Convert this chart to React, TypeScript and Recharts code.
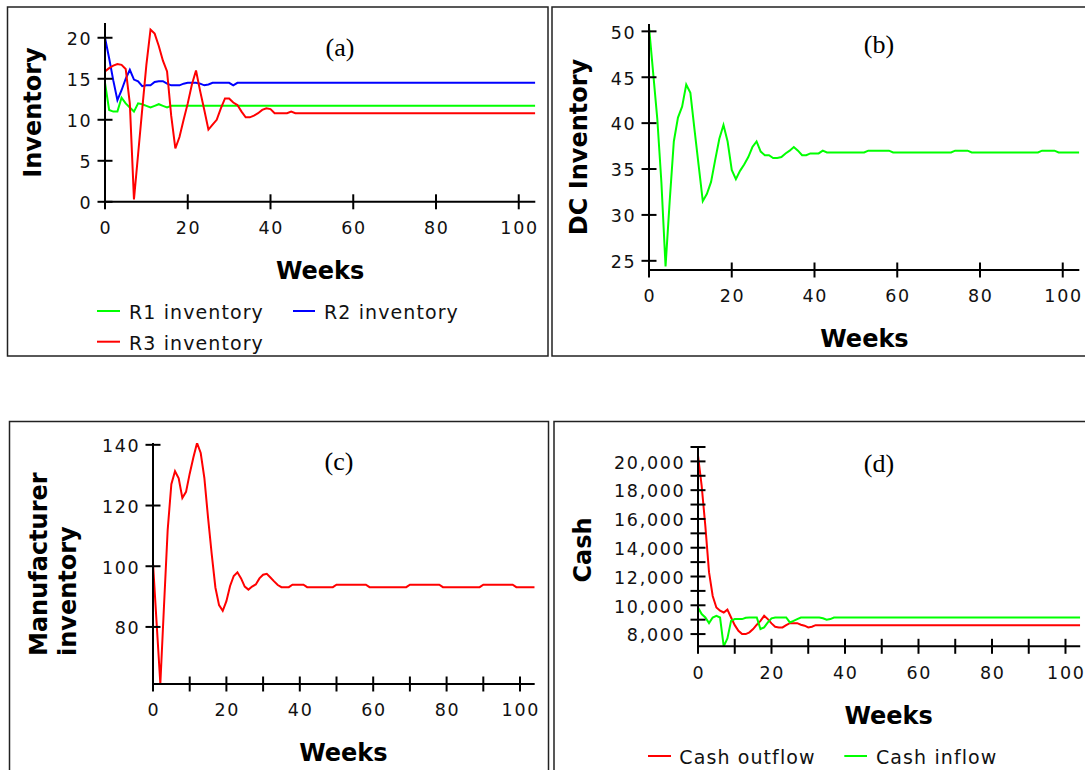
import React from 'react';
import { LineChart, Line, XAxis, YAxis } from 'recharts';

// ---------- data (weekly values, week index = position) ----------
const r1Inventory = [
  14.5, 11.2, 11.0, 11.0, 12.7, 12.0, 11.5, 11.0, 12.0, 11.9,
  11.7, 11.5, 11.7, 11.9, 11.7, 11.5, 11.7, 11.7, 11.7, 11.7,
  11.7, 11.7, 11.7, 11.7, 11.7, 11.7, 11.7, 11.7, 11.7, 11.7,
  11.7, 11.7, 11.7, 11.7, 11.7, 11.7, 11.7, 11.7, 11.7, 11.7,
  11.7, 11.7, 11.7, 11.7, 11.7, 11.7, 11.7, 11.7, 11.7, 11.7,
  11.7, 11.7, 11.7, 11.7, 11.7, 11.7, 11.7, 11.7, 11.7, 11.7,
  11.7, 11.7, 11.7, 11.7, 11.7, 11.7, 11.7, 11.7, 11.7, 11.7,
  11.7, 11.7, 11.7, 11.7, 11.7, 11.7, 11.7, 11.7, 11.7, 11.7,
  11.7, 11.7, 11.7, 11.7, 11.7, 11.7, 11.7, 11.7, 11.7, 11.7,
  11.7, 11.7, 11.7, 11.7, 11.7, 11.7, 11.7, 11.7, 11.7, 11.7,
  11.7, 11.7, 11.7, 11.7, 11.7,
];

const r2Inventory = [
  20.0, 17.5, 14.8, 12.4, 13.6, 15.0, 16.1, 14.9, 14.7, 14.1,
  14.2, 14.2, 14.6, 14.7, 14.7, 14.4, 14.2, 14.2, 14.2, 14.4,
  14.5, 14.5, 14.5, 14.4, 14.2, 14.3, 14.5, 14.5, 14.5, 14.5,
  14.5, 14.2, 14.5, 14.5, 14.5, 14.5, 14.5, 14.5, 14.5, 14.5,
  14.5, 14.5, 14.5, 14.5, 14.5, 14.5, 14.5, 14.5, 14.5, 14.5,
  14.5, 14.5, 14.5, 14.5, 14.5, 14.5, 14.5, 14.5, 14.5, 14.5,
  14.5, 14.5, 14.5, 14.5, 14.5, 14.5, 14.5, 14.5, 14.5, 14.5,
  14.5, 14.5, 14.5, 14.5, 14.5, 14.5, 14.5, 14.5, 14.5, 14.5,
  14.5, 14.5, 14.5, 14.5, 14.5, 14.5, 14.5, 14.5, 14.5, 14.5,
  14.5, 14.5, 14.5, 14.5, 14.5, 14.5, 14.5, 14.5, 14.5, 14.5,
  14.5, 14.5, 14.5, 14.5, 14.5,
];

const r3Inventory = [
  15.9, 16.3, 16.6, 16.8, 16.7, 16.2, 12.0, 0.3, 5.8, 11.3,
  16.7, 21.0, 20.5, 19.0, 17.2, 15.9, 10.5, 6.5, 7.9, 10.0,
  12.0, 14.3, 16.0, 13.5, 11.2, 8.8, 9.4, 10.0, 11.4, 12.6,
  12.6, 12.1, 11.8, 11.0, 10.3, 10.3, 10.5, 10.8, 11.2, 11.4,
  11.3, 10.8, 10.8, 10.8, 10.8, 11.0, 10.8, 10.8, 10.8, 10.8,
  10.8, 10.8, 10.8, 10.8, 10.8, 10.8, 10.8, 10.8, 10.8, 10.8,
  10.8, 10.8, 10.8, 10.8, 10.8, 10.8, 10.8, 10.8, 10.8, 10.8,
  10.8, 10.8, 10.8, 10.8, 10.8, 10.8, 10.8, 10.8, 10.8, 10.8,
  10.8, 10.8, 10.8, 10.8, 10.8, 10.8, 10.8, 10.8, 10.8, 10.8,
  10.8, 10.8, 10.8, 10.8, 10.8, 10.8, 10.8, 10.8, 10.8, 10.8,
  10.8, 10.8, 10.8, 10.8, 10.8,
];

const dcInventory = [
  50.5, 45.5, 40.5, 33.5, 24.4, 31.5, 38.0, 40.6, 41.8, 44.2,
  43.3, 39.3, 35.4, 31.5, 32.3, 33.6, 36.0, 38.3, 39.8, 38.0,
  34.9, 33.9, 34.8, 35.5, 36.3, 37.4, 38.0, 36.9, 36.5, 36.5,
  36.2, 36.2, 36.3, 36.7, 37.0, 37.4, 37.0, 36.5, 36.5, 36.7,
  36.7, 36.7, 37.0, 36.8, 36.8, 36.8, 36.8, 36.8, 36.8, 36.8,
  36.8, 36.8, 36.8, 37.0, 37.0, 37.0, 37.0, 37.0, 37.0, 36.8,
  36.8, 36.8, 36.8, 36.8, 36.8, 36.8, 36.8, 36.8, 36.8, 36.8,
  36.8, 36.8, 36.8, 36.8, 37.0, 37.0, 37.0, 37.0, 36.8, 36.8,
  36.8, 36.8, 36.8, 36.8, 36.8, 36.8, 36.8, 36.8, 36.8, 36.8,
  36.8, 36.8, 36.8, 36.8, 36.8, 37.0, 37.0, 37.0, 37.0, 36.8,
  36.8, 36.8, 36.8, 36.8, 36.8,
];

const manufacturerInventory = [
  101.0, 81.0, 61.3, 87.0, 112.0, 127.0, 131.3, 129.0, 122.5, 124.5,
  130.5, 135.8, 140.6, 137.3, 129.0, 116.0, 104.0, 93.0, 87.2, 85.3,
  88.5, 93.5, 96.8, 98.0, 96.0, 93.3, 92.3, 93.3, 94.0, 96.0,
  97.2, 97.5, 96.3, 95.0, 93.8, 93.1, 93.1, 93.1, 93.9, 93.9,
  93.9, 93.9, 93.1, 93.1, 93.1, 93.1, 93.1, 93.1, 93.1, 93.1,
  93.9, 93.9, 93.9, 93.9, 93.9, 93.9, 93.9, 93.9, 93.9, 93.1,
  93.1, 93.1, 93.1, 93.1, 93.1, 93.1, 93.1, 93.1, 93.1, 93.1,
  93.9, 93.9, 93.9, 93.9, 93.9, 93.9, 93.9, 93.9, 93.9, 93.1,
  93.1, 93.1, 93.1, 93.1, 93.1, 93.1, 93.1, 93.1, 93.1, 93.1,
  93.9, 93.9, 93.9, 93.9, 93.9, 93.9, 93.9, 93.9, 93.9, 93.1,
  93.1, 93.1, 93.1, 93.1, 93.1,
];

const cashOutflow = [
  20400, 18300, 15500, 12300, 10650, 9850, 9620, 9500, 9700, 9150,
  8620, 8230, 8000, 8000, 8120, 8350, 8650, 8920, 9270, 9040,
  8740, 8510, 8460, 8460, 8620, 8760, 8760, 8760, 8650, 8580,
  8460, 8510, 8620, 8620, 8620, 8620, 8620, 8620, 8620, 8620,
  8620, 8620, 8620, 8620, 8620, 8620, 8620, 8620, 8620, 8620,
  8620, 8620, 8620, 8620, 8620, 8620, 8620, 8620, 8620, 8620,
  8620, 8620, 8620, 8620, 8620, 8620, 8620, 8620, 8620, 8620,
  8620, 8620, 8620, 8620, 8620, 8620, 8620, 8620, 8620, 8620,
  8620, 8620, 8620, 8620, 8620, 8620, 8620, 8620, 8620, 8620,
  8620, 8620, 8620, 8620, 8620, 8620, 8620, 8620, 8620, 8620,
  8620, 8620, 8620, 8620, 8620,
];

const cashInflow = [
  9850, 9390, 9150, 8760, 9150, 9270, 9150, 7150, 7700, 8920,
  9040, 9040, 9040, 9130, 9150, 9150, 9150, 8350, 8460, 8810,
  9090, 9150, 9150, 9150, 9150, 8810, 8920, 9040, 9150, 9150,
  9150, 9150, 9150, 9150, 9100, 9000, 9040, 9150, 9150, 9150,
  9150, 9150, 9150, 9150, 9150, 9150, 9150, 9150, 9150, 9150,
  9150, 9150, 9150, 9150, 9150, 9150, 9150, 9150, 9150, 9150,
  9150, 9150, 9150, 9150, 9150, 9150, 9150, 9150, 9150, 9150,
  9150, 9150, 9150, 9150, 9150, 9150, 9150, 9150, 9150, 9150,
  9150, 9150, 9150, 9150, 9150, 9150, 9150, 9150, 9150, 9150,
  9150, 9150, 9150, 9150, 9150, 9150, 9150, 9150, 9150, 9150,
  9150, 9150, 9150, 9150, 9150,
];

const weekTicksCoarse = [0, 20, 40, 60, 80, 100];
const weekTicksFine = [0, 10, 20, 30, 40, 50, 60, 70, 80, 90, 100];
const retailerTicks = [0, 5, 10, 15, 20];
const dcTicks = [25, 30, 35, 40, 45, 50];
const manufacturerTicks = [80, 100, 120, 140];
const cashTicks = [8000, 9000, 10000, 11000, 12000, 13000, 14000, 15000, 16000, 17000, 18000, 19000, 20000, 21000];

const legendA = ['R1 inventory', 'R2 inventory', 'R3 inventory'];
const legendD = ['Cash outflow', 'Cash inflow'];

// ---------- derived tables ----------
const retailerData = r1Inventory.map((v, i) => ({ week: i, r1: v, r2: r2Inventory[i], r3: r3Inventory[i] }));
const dcData = dcInventory.map((v, i) => ({ week: i, dc: v }));
const manufacturerData = manufacturerInventory.map((v, i) => ({ week: i, m: v }));
const cashData = cashOutflow.map((v, i) => ({ week: i, out: v, inflow: cashInflow[i] }));

const GREEN = '#00ff00';
const RED = '#ff0000';
const BLUE = '#0000ff';
const SANS = "'DejaVu Sans', Verdana, sans-serif";
const SERIF = "'Liberation Serif', 'Times New Roman', serif";

type Rect = { left: number; top: number; right: number; bottom: number };

const makeXTick = (labelEvery: number) => (props: any) => {
  const { x, y, payload } = props;
  const v = payload.value as number;
  return (
    <g>
      <line x1={x} y1={y - 7.5} x2={x} y2={y + 7.5} stroke="#000" strokeWidth={2} />
      {v % labelEvery === 0 ? (
        <text x={x + 0.85} y={y + 32.5} textAnchor="middle" fontSize={17.5} fontFamily={SANS} fill="#111" style={{ letterSpacing: 1.7 }}>
          {String(v)}
        </text>
      ) : null}
    </g>
  );
};

const makeYTick = (label: (v: number) => string | null) => (props: any) => {
  const { x, y, payload } = props;
  const v = payload.value as number;
  const t = label(v);
  return (
    <g>
      <line x1={x - 7.5} y1={y} x2={x + 7.5} y2={y} stroke="#000" strokeWidth={2} />
      {t !== null ? (
        <text x={x - 12.6} y={y + 7.3} textAnchor="end" fontSize={17.5} fontFamily={SANS} fill="#111" style={{ letterSpacing: 1.7 }}>
          {t}
        </text>
      ) : null}
    </g>
  );
};

type Series = { key: string; color: string };

function Panel(props: {
  rect: Rect;
  data: any[];
  yDomain: [number, number];
  yTicks: number[];
  xTicks: number[];
  xLabelEvery: number;
  yLabel: (v: number) => string | null;
  series: Series[];
}) {
  const { rect } = props;
  const w = rect.right - rect.left + 110;
  const h = rect.bottom - rect.top + 50;
  return (
    <div style={{ position: 'absolute', left: rect.left - 100, top: rect.top - 10, width: w, height: h }}>
      <LineChart width={w} height={h} data={props.data} margin={{ top: 10, right: 10, bottom: 0, left: 0 }}>
        <XAxis
          dataKey="week"
          type="number"
          domain={[0, 104]}
          ticks={props.xTicks}
          interval={0}
          height={40}
          tickSize={0}
          tickMargin={0}
          tickLine={false}
          axisLine={{ stroke: '#000', strokeWidth: 2 }}
          tick={makeXTick(props.xLabelEvery)}
          allowDataOverflow
        />
        <YAxis
          type="number"
          domain={props.yDomain}
          ticks={props.yTicks}
          interval={0}
          width={100}
          tickSize={0}
          tickMargin={0}
          tickLine={false}
          axisLine={{ stroke: '#000', strokeWidth: 2 }}
          tick={makeYTick(props.yLabel)}
          allowDataOverflow
        />
        {props.series.map((s) => (
          <Line
            key={s.key}
            type="linear"
            dataKey={s.key}
            stroke={s.color}
            strokeWidth={2}
            dot={false}
            activeDot={false}
            isAnimationActive={false}
          />
        ))}
      </LineChart>
    </div>
  );
}

const rectA: Rect = { left: 105, top: 22.9, right: 535.3, bottom: 201.7 };
const rectB: Rect = { left: 649.3, top: 24, right: 1079.6, bottom: 270 };
const rectC: Rect = { left: 152.5, top: 443, right: 534.2, bottom: 684 };
const rectD: Rect = { left: 697.5, top: 447.4, right: 1079.7, bottom: 646.7 };

const midX = (r: Rect) => (r.left + r.right) / 2;

const plainLabel = (v: number) => String(v);
const cashLabel = (v: number) => (v % 2000 === 0 && v <= 20000 ? v.toLocaleString('en-US') : null);

export default function App() {
  const bold = { fontFamily: SANS, fontWeight: 700, fontSize: 24, fill: '#000' } as const;
  const legendText = { fontFamily: SANS, fontSize: 19, fill: '#111', style: { letterSpacing: 1.1 } } as const;
  const tag = { fontFamily: SERIF, fontSize: 26, fill: '#000', textAnchor: 'middle' as const };
  return (
    <div style={{ position: 'absolute', left: 0, top: 0, width: 1085, height: 770, overflow: 'hidden', background: '#fff' }}>
      <svg width={1085} height={770} style={{ position: 'absolute', left: 0, top: 0 }}>
        {/* panel frames */}
        <rect x={7.5} y={7} width={540.5} height={349} fill="none" stroke="#222" strokeWidth={1.5} />
        <rect x={552} y={7} width={600} height={349} fill="none" stroke="#222" strokeWidth={1.5} />
        <rect x={9.5} y={421.5} width={539} height={400} fill="none" stroke="#222" strokeWidth={1.5} />
        <rect x={554} y={421.5} width={600} height={400} fill="none" stroke="#222" strokeWidth={1.5} />

        {/* panel tags */}
        <text x={340} y={56} {...tag}>(a)</text>
        <text x={879} y={53} {...tag}>(b)</text>
        <text x={339} y={470} {...tag}>(c)</text>
        <text x={879} y={472} {...tag}>(d)</text>

        {/* axis titles */}
        <text x={midX(rectA)} y={rectA.bottom + 77} textAnchor="middle" {...bold}>Weeks</text>
        <text x={midX(rectB)} y={rectB.bottom + 77} textAnchor="middle" {...bold}>Weeks</text>
        <text x={midX(rectC)} y={rectC.bottom + 77} textAnchor="middle" {...bold}>Weeks</text>
        <text x={midX(rectD)} y={rectD.bottom + 77} textAnchor="middle" {...bold}>Weeks</text>

        <text transform="translate(41,112.5) rotate(-90)" textAnchor="middle" {...bold}>Inventory</text>
        <text transform="translate(587,147) rotate(-90)" textAnchor="middle" {...bold}>DC Inventory</text>
        <text transform="translate(46.5,656) rotate(-90)" textAnchor="start" {...bold}>Manufacturer</text>
        <text transform="translate(75.5,656) rotate(-90)" textAnchor="start" {...bold}>inventory</text>
        <text transform="translate(591,550) rotate(-90)" textAnchor="middle" {...bold}>Cash</text>

        {/* legend (a) */}
        <line x1={97} y1={311} x2={120} y2={311} stroke={GREEN} strokeWidth={2} />
        <text x={129} y={319.3} {...legendText}>{legendA[0]}</text>
        <line x1={293} y1={311} x2={315} y2={311} stroke={BLUE} strokeWidth={2} />
        <text x={324} y={319.3} {...legendText}>{legendA[1]}</text>
        <line x1={97} y1={341.7} x2={120} y2={341.7} stroke={RED} strokeWidth={2} />
        <text x={129} y={350} {...legendText}>{legendA[2]}</text>

        {/* legend (d) */}
        <line x1={648} y1={756} x2={671} y2={756} stroke={RED} strokeWidth={2} />
        <text x={679.3} y={764} {...legendText}>{legendD[0]}</text>
        <line x1={844.3} y1={756} x2={867} y2={756} stroke={GREEN} strokeWidth={2} />
        <text x={876} y={764} {...legendText}>{legendD[1]}</text>
      </svg>

      <Panel
        rect={rectA}
        data={retailerData}
        yDomain={[0, 21.8]}
        yTicks={retailerTicks}
        xTicks={weekTicksCoarse}
        xLabelEvery={20}
        yLabel={plainLabel}
        series={[
          { key: 'r1', color: GREEN },
          { key: 'r2', color: BLUE },
          { key: 'r3', color: RED },
        ]}
      />
      <Panel
        rect={rectB}
        data={dcData}
        yDomain={[24, 50.8]}
        yTicks={dcTicks}
        xTicks={weekTicksCoarse}
        xLabelEvery={20}
        yLabel={plainLabel}
        series={[{ key: 'dc', color: GREEN }]}
      />
      <Panel
        rect={rectC}
        data={manufacturerData}
        yDomain={[61.2, 140.6]}
        yTicks={manufacturerTicks}
        xTicks={weekTicksFine}
        xLabelEvery={20}
        yLabel={plainLabel}
        series={[{ key: 'm', color: RED }]}
      />
      <Panel
        rect={rectD}
        data={cashData}
        yDomain={[7150, 21000]}
        yTicks={cashTicks}
        xTicks={weekTicksFine}
        xLabelEvery={20}
        yLabel={cashLabel}
        series={[
          { key: 'out', color: RED },
          { key: 'inflow', color: GREEN },
        ]}
      />
    </div>
  );
}
